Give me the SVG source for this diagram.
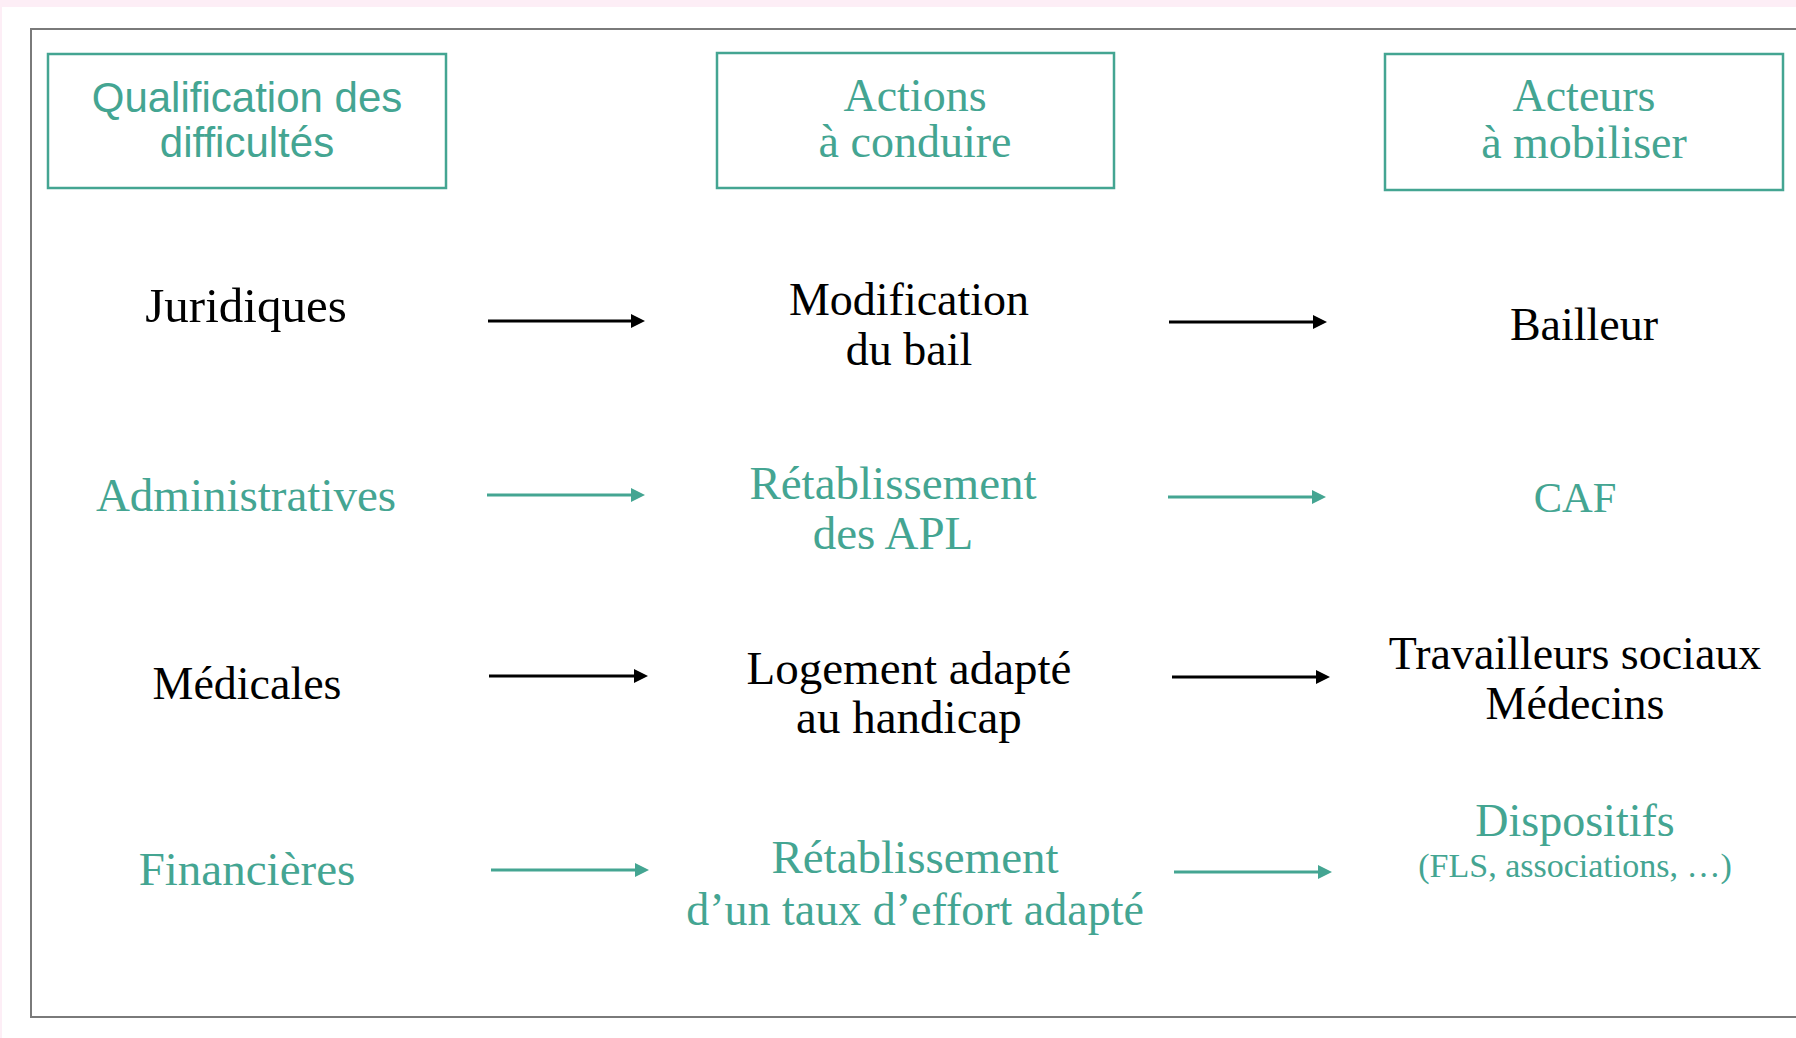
<svg xmlns="http://www.w3.org/2000/svg" width="1796" height="1038" viewBox="0 0 1796 1038">
<style>
.hbox{fill:#ffffff;stroke:#44a592;stroke-width:2.5}
.sans{font-family:"Liberation Sans",Arial,sans-serif;fill:#44a592;text-anchor:middle}
.ser{font-family:"Liberation Serif","Times New Roman",serif;text-anchor:middle}
.teal{fill:#44a592}
.blk{fill:#000000}
.arr-b{stroke:#000000;stroke-width:3;fill:none}
.arr-t{stroke:#44a592;stroke-width:3;fill:none}
</style>
<defs>
<marker id="mb" markerUnits="userSpaceOnUse" markerWidth="14" markerHeight="14" refX="4" refY="7" orient="auto"><path d="M0,0 L14,7 L0,14 z" fill="#000000"/></marker>
<marker id="mt" markerUnits="userSpaceOnUse" markerWidth="14" markerHeight="14" refX="4" refY="7" orient="auto"><path d="M0,0 L14,7 L0,14 z" fill="#44a592"/></marker>
</defs>
<rect x="0" y="0" width="1796" height="1038" fill="#ffffff"/>
<rect x="0" y="0" width="1796" height="7" fill="#fdeef6"/>
<rect x="0" y="0" width="2" height="1038" fill="#fdeef6"/>
<rect x="31" y="29" width="1800" height="988" fill="none" stroke="#7a7a7a" stroke-width="2"/>

<g id="h-qualification">
<rect class="hbox" x="48" y="54" width="398" height="134"/>
<text class="sans" font-size="42" x="247" y="112">Qualification des</text>
<text class="sans" font-size="42" x="247" y="157">difficultés</text>
</g>
<g id="h-actions">
<rect class="hbox" x="717" y="53" width="397" height="135"/>
<text class="ser teal" font-size="46" x="915" y="111">Actions</text>
<text class="ser teal" font-size="46" x="915" y="157">à conduire</text>
</g>
<g id="h-acteurs">
<rect class="hbox" x="1385" y="54" width="398" height="136"/>
<text class="ser teal" font-size="46" x="1584" y="111">Acteurs</text>
<text class="ser teal" font-size="46" x="1584" y="158">à mobiliser</text>
</g>

<g id="n-juridiques"><text class="ser blk" font-size="49" x="246" y="322">Juridiques</text></g>
<g id="n-modification"><text class="ser blk" font-size="46" x="909" y="315">Modification</text><text class="ser blk" font-size="46" x="909" y="365">du bail</text></g>
<g id="n-bailleur"><text class="ser blk" font-size="46" x="1584" y="340">Bailleur</text></g>

<g id="n-administratives"><text class="ser teal" font-size="47" x="246" y="511">Administratives</text></g>
<g id="n-apl"><text class="ser teal" font-size="47" x="893" y="499">Rétablissement</text><text class="ser teal" font-size="47" x="893" y="549">des APL</text></g>
<g id="n-caf"><text class="ser teal" font-size="42.5" x="1575" y="512">CAF</text></g>

<g id="n-medicales"><text class="ser blk" font-size="46" x="247" y="699">Médicales</text></g>
<g id="n-logement"><text class="ser blk" font-size="47" x="909" y="684">Logement adapté</text><text class="ser blk" font-size="47" x="909" y="733">au handicap</text></g>
<g id="n-travailleurs"><text class="ser blk" font-size="46" x="1575" y="669">Travailleurs sociaux</text><text class="ser blk" font-size="46" x="1575" y="719">Médecins</text></g>

<g id="n-financieres"><text class="ser teal" font-size="47" x="247" y="885">Financières</text></g>
<g id="n-effort"><text class="ser teal" font-size="47" x="915" y="873">Rétablissement</text><text class="ser teal" font-size="46" x="915" y="925">d’un taux d’effort adapté</text></g>
<g id="n-dispositifs"><text class="ser teal" font-size="46" x="1575" y="836">Dispositifs</text><text class="ser teal" font-size="34" x="1575" y="877">(FLS, associations, …)</text></g>

<g id="connectors">
<line class="arr-b" x1="488" y1="321" x2="635" y2="321" marker-end="url(#mb)"/>
<line class="arr-b" x1="1169" y1="322" x2="1317" y2="322" marker-end="url(#mb)"/>
<line class="arr-t" x1="487" y1="495" x2="635" y2="495" marker-end="url(#mt)"/>
<line class="arr-t" x1="1168" y1="497" x2="1316" y2="497" marker-end="url(#mt)"/>
<line class="arr-b" x1="489" y1="676" x2="638" y2="676" marker-end="url(#mb)"/>
<line class="arr-b" x1="1172" y1="677" x2="1320" y2="677" marker-end="url(#mb)"/>
<line class="arr-t" x1="491" y1="870" x2="639" y2="870" marker-end="url(#mt)"/>
<line class="arr-t" x1="1174" y1="872" x2="1322" y2="872" marker-end="url(#mt)"/>
</g>
</svg>
